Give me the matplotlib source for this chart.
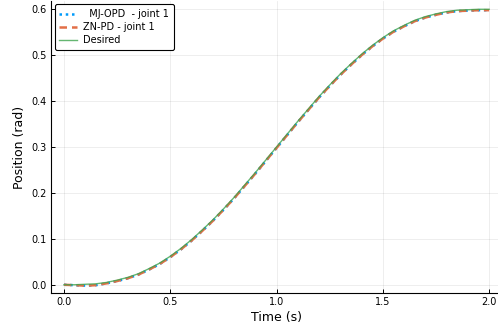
import matplotlib
matplotlib.use('Agg')
import matplotlib.pyplot as plt

# time samples (s)
t = [i * 0.05 for i in range(41)]

desired = [0.000, 0.000, 0.001, 0.002, 0.005, 0.010, 0.016, 0.024, 0.035, 0.047,
           0.062, 0.079, 0.098, 0.119, 0.141, 0.165, 0.190, 0.217, 0.244, 0.272,
           0.300, 0.328, 0.356, 0.383, 0.410, 0.435, 0.459, 0.481, 0.502, 0.521,
           0.538, 0.553, 0.565, 0.576, 0.584, 0.590, 0.595, 0.598, 0.599, 0.600, 0.600]

mj_opd = [0.000, -0.001, -0.002, -0.001, 0.003, 0.008, 0.014, 0.022, 0.033, 0.045,
          0.060, 0.077, 0.096, 0.117, 0.139, 0.163, 0.188, 0.215, 0.242, 0.270,
          0.298, 0.326, 0.354, 0.381, 0.408, 0.433, 0.457, 0.479, 0.500, 0.519,
          0.536, 0.551, 0.563, 0.574, 0.582, 0.588, 0.593, 0.596, 0.597, 0.598, 0.598]

zn_pd = [0.000, -0.001, -0.002, -0.001, 0.003, 0.008, 0.014, 0.022, 0.033, 0.045,
         0.060, 0.077, 0.096, 0.117, 0.139, 0.163, 0.188, 0.215, 0.242, 0.270,
         0.298, 0.326, 0.354, 0.381, 0.408, 0.433, 0.457, 0.479, 0.500, 0.519,
         0.536, 0.551, 0.563, 0.574, 0.582, 0.588, 0.593, 0.596, 0.597, 0.598, 0.598]

xticks = [0.0, 0.5, 1.0, 1.5, 2.0]
yticks = [0.0, 0.1, 0.2, 0.3, 0.4, 0.5, 0.6]

fig = plt.figure(figsize=(4.98, 3.29), dpi=100)
ax = fig.add_axes([0.1028, 0.1094, 0.905, 0.8875])

ax.plot(t, mj_opd, color='#009AFA', ls=(0, (1, 1.5)), lw=1.8, label='  MJ-OPD  - joint 1')
ax.plot(t, zn_pd, color='#E36F47', ls=(0, (3, 2)), lw=1.8, label='ZN-PD - joint 1')
ax.plot(t, desired, color='#3EA44E', lw=1.0, alpha=0.8, label='Desired')

ax.set_xlim(-0.06, 2.06)
ax.set_ylim(-0.018, 0.618)
ax.set_xticks(xticks)
ax.set_yticks(yticks)
ax.set_xticklabels([f'{v:.1f}' for v in xticks])
ax.set_yticklabels([f'{v:.1f}' for v in yticks])
ax.tick_params(direction='in', labelsize=7, length=3, width=0.7, pad=3)
ax.grid(True, color='black', alpha=0.08, lw=0.6)
for s in ['top', 'right']:
    ax.spines[s].set_visible(False)
for s in ['left', 'bottom']:
    ax.spines[s].set_linewidth(0.8)

ax.set_xlabel('Time (s)', fontsize=9, labelpad=3)
ax.set_ylabel('Position (rad)', fontsize=9, labelpad=4)

leg = ax.legend(loc='upper left', fontsize=7, fancybox=True, framealpha=1,
                edgecolor='black', borderaxespad=0.45, handlelength=1.8,
                labelspacing=0.3, borderpad=0.4, handletextpad=0.6)
leg.get_frame().set_linewidth(0.8)
leg.get_frame().set_boxstyle('round', pad=0.1, rounding_size=0.2)

fig.savefig('out.png', dpi=100)
